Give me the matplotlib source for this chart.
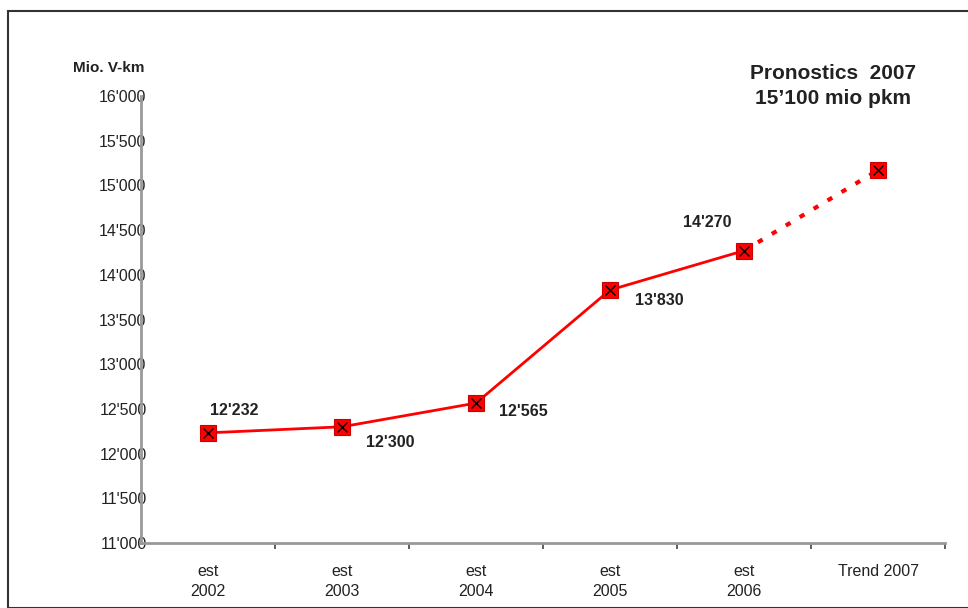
import matplotlib.pyplot as plt
from matplotlib.patches import Rectangle

categories = ["est\n2002", "est\n2003", "est\n2004", "est\n2005", "est\n2006", "Trend 2007"]
values = [12232, 12300, 12565, 13830, 14270, 15170]
point_labels = ["12'232", "12'300", "12'565", "13'830", "14'270"]
label_offsets = [(26, 22), (48, -16), (47, -8), (49, -11), (-37, 28)]  # pixels
yticks = [11000, 11500, 12000, 12500, 13000, 13500, 14000, 14500, 15000, 15500, 16000]

plt.rcParams['font.family'] = ['Liberation Sans', 'DejaVu Sans']

W, H = 968, 608
fig = plt.figure(figsize=(W / 100, H / 100), dpi=100)
fig.patches.append(Rectangle((8 / W, 0), 1.2, 1 - 11 / H, transform=fig.transFigure,
                             fill=False, edgecolor='#333333', linewidth=1.5))

ax = fig.add_axes([141 / W, (H - 543) / H, 804 / W, 447 / H])
x = list(range(len(categories)))

ax.plot(x[:5], values[:5], color='red', lw=2, zorder=2)
ax.plot(x[4:], values[4:], color='red', lw=3, ls=(0, (1.3, 2.6)), zorder=2)
ax.plot(x, values, ls='none', marker='s', ms=11, mfc='red', mec='#cc0000', mew=0.8, zorder=3)
ax.plot(x, values, ls='none', marker='x', ms=7, mec='black', mew=1, zorder=4)

for i, lab in enumerate(point_labels):
    ax.annotate(lab, (x[i], values[i]), xytext=label_offsets[i], textcoords='offset pixels',
                ha='center', va='center', fontsize=11.5, fontweight='bold', color='#222222')

ax.set_xlim(-0.5, 5.5)
ax.set_ylim(11000, 16000)
ax.set_yticks(yticks)
ax.set_yticklabels([f"{v // 1000}'{v % 1000:03d}" for v in yticks])
ax.tick_params(axis='y', length=0, pad=-4, labelsize=11.5, labelcolor='#222222')

ax.set_xticks(x)
ax.set_xticklabels(categories, linespacing=1.45)
ax.tick_params(axis='x', which='major', length=0, pad=15, labelsize=11.5, labelcolor='#222222')
ax.set_xticks([i + 0.5 for i in range(6)], minor=True)
ax.tick_params(axis='x', which='minor', length=4, width=1.2, color='#444444', direction='out')

for s in ['top', 'right']:
    ax.spines[s].set_visible(False)
for s in ['left', 'bottom']:
    ax.spines[s].set_color('#999999')
    ax.spines[s].set_linewidth(2)

fig.text(73 / W, 1 - 68 / H, "Mio. V-km", fontsize=11, fontweight='bold', va='center', ha='left',
         color='#222222')
fig.text(833 / W, 1 - 86 / H, "Pronostics  2007\n15\u2019100 mio pkm", fontsize=15,
         fontweight='bold', ha='center', va='center', color='#222222', linespacing=1.45)

fig.savefig('out.png', dpi=100)
